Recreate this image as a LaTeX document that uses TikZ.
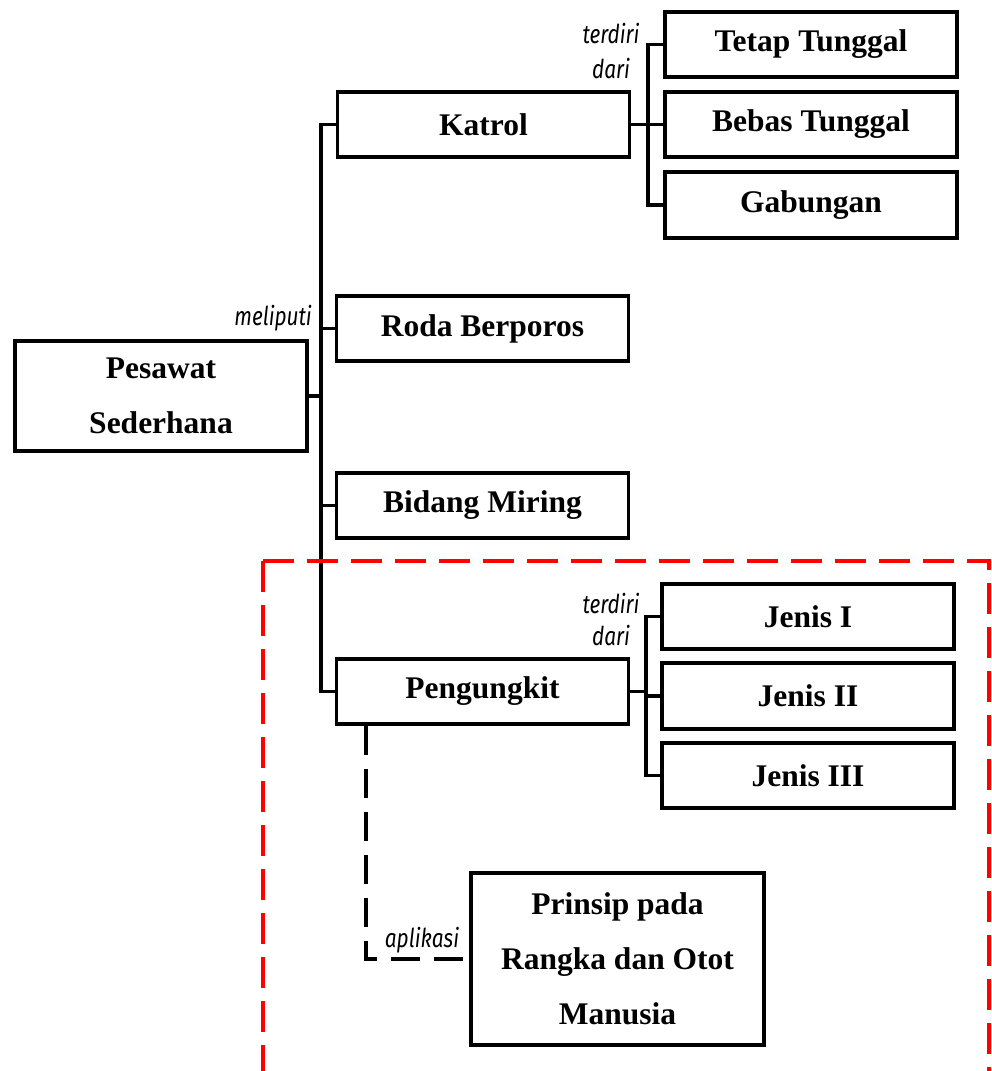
\documentclass[tikz,border=0pt]{standalone}
\usepackage{fontspec}
\setmainfont{Liberation Serif}
\newfontfamily\notefont[FakeStretch=0.8]{Fira Sans}
\begin{document}
\begin{tikzpicture}[x=1pt,y=-1pt,
  box/.style={draw, line width=3.8pt, inner sep=0pt, align=center,
    font=\fontsize{31.5}{55}\selectfont\bfseries},
  item/.style={box, minimum width=292pt, minimum height=65.5pt},
  link/.style={line width=3.8pt},
  aside/.style={line width=3.8pt, dash pattern=on 29pt off 14pt},
  frame/.style={red, line width=4pt, dash pattern=on 31pt off 13pt},
  note/.style={font=\notefont\itshape\fontsize{26}{34}\selectfont, inner sep=0pt, anchor=base},
]
\useasboundingbox (0,0) rectangle (991,1071);

% root and first level
\node[box, minimum width=292pt, minimum height=110pt] (pes) at (161,396) {Pesawat\\Sederhana};
\node[item] (katrol) at (483.5,124.5) {Katrol};
\node[item] (roda)   at (482.5,328.5) {Roda Berporos};
\node[item] (bidang) at (482.5,505.5) {Bidang Miring};
\node[item] (peng)   at (482.5,691.5) {Pengungkit};

% kinds of pulleys
\node[item] (tetap) at (811,44.5)  {Tetap Tunggal};
\node[item] (bebas) at (811,124.5) {Bebas Tunggal};
\node[item] (gab)   at (811,205)   {Gabungan};

% kinds of levers
\node[item] (j1) at (808,616.5) {Jenis I};
\node[item] (j2) at (808,696)   {Jenis II};
\node[item] (j3) at (808,775.5) {Jenis III};

% application
\node[box, minimum width=293pt, minimum height=172pt] (prinsip) at (617.5,959)
  {Prinsip pada\\Rangka dan Otot\\Manusia};

% bus lines
\coordinate (tk) at (321,0);
\coordinate (ka) at (648,0);
\coordinate (pk) at (646,0);
\coordinate (dx) at (366,0);

\draw[link] (katrol.west) -| (tk |- peng.west) -- (peng.west);
\draw[link] (pes.east) -- (pes.east -| tk);
\draw[link] (roda.west) -- (roda.west -| tk);
\draw[link] (bidang.west) -- (bidang.west -| tk);

\draw[link] (katrol.east) -- (katrol.east -| ka);
\draw[link] (tetap.west) -| (ka |- gab.west) -- (gab.west);
\draw[link] (bebas.west) -- (bebas.west -| ka);

\draw[link] (peng.east) -- (peng.east -| pk);
\draw[link] (j1.west) -| (pk |- j3.west) -- (j3.west);
\draw[link] (j2.west) -- (j2.west -| pk);

\draw[aside] (peng.south -| dx) |- (prinsip.west);

% connector labels
\node[note] (n1a) at (611,43) {terdiri};
\node[note] (n1b) at (611,78) {dari};
\node[note] (n2a) at (611,613) {terdiri};
\node[note] (n2b) at (611,645) {dari};
\node[note, anchor=base east] (n3) at (312,325) {meliputi};
\node[note] (n4) at (422,947) {aplikasi};

% highlighted region
\draw[frame] (263,561) -- (263,1080);
\draw[frame] (263,561) -- (989,561) -- (989,1080);
\end{tikzpicture}
\end{document}
